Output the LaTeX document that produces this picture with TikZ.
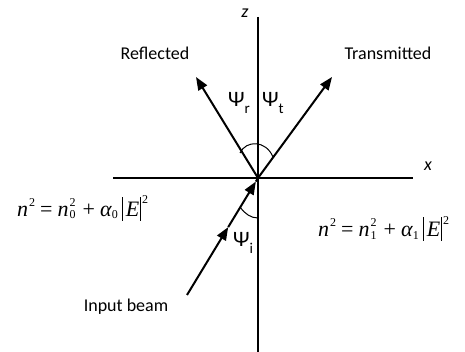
\documentclass[tikz,border=0pt]{standalone}
\usepackage{fontspec}
\setmainfont{Carlito}
\newfontfamily\eqf{Liberation Serif}
\usetikzlibrary{arrows.meta,calc}
\newcommand{\smallfs}[1]{{\fontsize{12}{12}\selectfont #1}}
\newcommand{\eqsup}[1]{\kern1pt\raisebox{10pt}{\smallfs{#1}}}
\newcommand{\eqsub}[1]{\raisebox{-2pt}{\smallfs{#1}}}
\newcommand{\psisub}[1]{\raisebox{-0.3em}{{\fontsize{15}{15}\selectfont #1}}}
\newcommand{\sps}[2]{\kern1pt\rlap{\raisebox{10pt}{\smallfs{#1}}}\raisebox{-2pt}{\smallfs{#2}}}
\newcommand{\vbar}{\rule[-4pt]{0.9pt}{24pt}}
\newcommand{\eqline}[1]{\textit{n}\eqsup{2}\kern5pt=\kern5pt\textit{n}\sps{2}{#1}\kern7pt+\kern5pt\textit{α}\eqsub{#1}\kern4pt\vbar\kern3pt\textit{E}\kern1pt\vbar\kern1pt\raisebox{13pt}{\smallfs{2}}}
\tikzset{
  axis/.style={line width=1.3pt},
  beam/.style={line width=2pt,-{Triangle[length=13pt,width=10pt]}},
  beamnotip/.style={line width=2pt},
  lbl/.style={font=\fontsize{18}{20}\selectfont, inner sep=0pt},
  psil/.style={font=\fontsize{22}{24}\selectfont, inner sep=0pt},
  eqn/.style={font=\eqf\fontsize{22}{24}\selectfont, inner sep=0pt, anchor=base west},
  angarc/.style={line width=1pt}
}
\begin{document}
\begin{tikzpicture}[x=1pt,y=-1pt]
\useasboundingbox (0,0) rectangle (465,352);
\coordinate (O) at (258,178);
\coordinate (ztop) at (258,17);
\coordinate (zbot) at (258,352);
\coordinate (xl) at (113,178);
\coordinate (xr) at (413,178);
\coordinate (rtip) at (196,77);
\coordinate (ttip) at (332,77);
\coordinate (istart) at (187,295);
\coordinate (imid) at ($(istart)!0.58!(O)$);
\coordinate (iend) at ($(istart)!0.97!(O)$);
% axes
\draw[axis] (ztop) -- (zbot);
\draw[axis] (xl) -- (xr);
\node[lbl, font=\fontsize{18}{20}\selectfont\itshape] (zlab) at (245,13) {z};
\node[lbl, font=\fontsize{18}{20}\selectfont\itshape] (xlab) at (428,166) {x};
% beams
\draw[beam] (O) -- (rtip);
\draw[beam] (O) -- (ttip);
\draw[beam] (istart) -- (imid);
\draw[beam] (imid) -- (iend);
\draw[beamnotip] (iend) -- (O);
% angle arcs
\coordinate (ua) at (240,153);
\coordinate (ub) at (273,157);
\draw[angarc] (ua) .. controls (246,140) and (266,140) .. (ub);
\coordinate (la) at ($(O)!0.25!(istart)$);
\coordinate (lb) at (258,218);
\draw[angarc] (la) .. controls (245,214) and (251,218) .. (lb);
% labels
\node[lbl] (refl) at (155,53) {Reflected};
\node[lbl] (trans) at (388,53) {Transmitted};
\node[lbl] (inp) at (126,307) {Input beam};
\node[psil] (psir) at (239,103) {Ψ\psisub{r}};
\node[psil] (psit) at (273,103) {Ψ\psisub{t}};
\node[psil] (psii) at (243,243) {Ψ\psisub{i}};
% equations
\node[eqn] (eq0) at (17,217) {\eqline{0}};
\node[eqn] (eq1) at (318,237) {\eqline{1}};
\end{tikzpicture}
\end{document}
